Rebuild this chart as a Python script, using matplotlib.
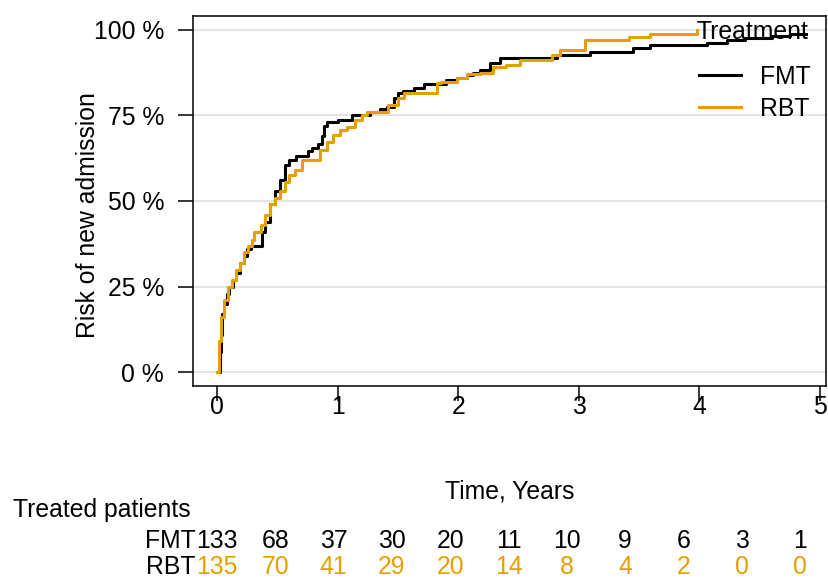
import matplotlib
matplotlib.use("Agg")
import matplotlib.pyplot as plt
from matplotlib.lines import Line2D

plt.rcParams.update({
    "font.family": ["Liberation Sans", "DejaVu Sans"],
    "font.size": 17.8,
    "axes.linewidth": 1.1,
})

# ---------------- data ----------------
fmt_t = [0, 0.02, 0.03, 0.04, 0.06, 0.08, 0.10, 0.13, 0.16, 0.19, 0.22, 0.25,
         0.28, 0.37, 0.40, 0.44, 0.48, 0.52, 0.56, 0.60, 0.655, 0.75, 0.79,
         0.84, 0.87, 0.89, 0.91, 1.00, 1.12, 1.27, 1.35, 1.41, 1.47, 1.50,
         1.54, 1.63, 1.72, 1.90, 1.99, 2.07, 2.12, 2.18, 2.26, 2.35, 2.82,
         3.09, 3.45, 3.59, 4.06, 4.23, 4.38, 4.60, 4.75, 4.88]
fmt_r = [0, 0.06, 0.11, 0.17, 0.20, 0.23, 0.25, 0.27, 0.29, 0.32, 0.34, 0.36,
         0.37, 0.41, 0.44, 0.49, 0.53, 0.56, 0.605, 0.62, 0.63, 0.645, 0.655,
         0.667, 0.69, 0.72, 0.73, 0.737, 0.75, 0.76, 0.77, 0.775, 0.80, 0.816,
         0.82, 0.83, 0.842, 0.854, 0.86, 0.869, 0.875, 0.883, 0.904, 0.918,
         0.927, 0.934, 0.947, 0.956, 0.962, 0.97, 0.977, 0.982, 0.988, 0.988]

rbt_t = [0, 0.015, 0.03, 0.06, 0.09, 0.12, 0.16, 0.19, 0.22, 0.26, 0.29, 0.31,
         0.36, 0.40, 0.44, 0.48, 0.52, 0.56, 0.60, 0.65, 0.70, 0.85, 0.91,
         0.96, 1.02, 1.08, 1.14, 1.20, 1.24, 1.42, 1.50, 1.55, 1.82, 1.86,
         1.99, 2.07, 2.18, 2.29, 2.40, 2.51, 2.78, 2.84, 3.05, 3.42, 3.59, 3.98]
rbt_r = [0, 0.09, 0.16, 0.21, 0.25, 0.27, 0.30, 0.32, 0.35, 0.37, 0.385, 0.41,
         0.43, 0.46, 0.49, 0.51, 0.53, 0.555, 0.575, 0.59, 0.62, 0.65, 0.672,
         0.693, 0.708, 0.717, 0.737, 0.752, 0.76, 0.781, 0.80, 0.815, 0.845,
         0.848, 0.86, 0.87, 0.875, 0.89, 0.898, 0.912, 0.927, 0.942, 0.971,
         0.98, 0.988, 1.0]

groups = ["FMT", "RBT"]
colors = {"FMT": "black", "RBT": "#E69F00"}

x_ticks = [0, 1, 2, 3, 4, 5]
y_ticks = [0, 0.25, 0.5, 0.75, 1.0]
y_ticklabels = ["0 %", "25 %", "50 %", "75 %", "100 %"]

risk_times = [0, 0.5, 1, 1.5, 2, 2.5, 3, 3.5, 4, 4.5, 5]
risk_fmt = [133, 68, 37, 30, 20, 11, 10, 9, 6, 3, 1]
risk_rbt = [135, 70, 41, 29, 20, 14, 8, 4, 2, 0, 0]

# ---------------- figure ----------------
W, H = 829, 581
fig = plt.figure(figsize=(W / 100, H / 100), dpi=100)
ax = fig.add_axes([193 / W, 1 - 386 / H, (826 - 193) / W, (386 - 16) / H])

for y in y_ticks:
    ax.axhline(y, color="#DEDEDE", lw=1.1, zorder=0)

ax.step(fmt_t, fmt_r, where="post", color=colors["FMT"], lw=2.2, zorder=3)
ax.step(rbt_t, rbt_r, where="post", color=colors["RBT"], lw=2.2, zorder=4)

ax.set_xlim(-0.2, 5.05)
ax.set_ylim(-0.04, 1.04)
ax.set_xticks(x_ticks)
ax.set_yticks(y_ticks)
ax.set_yticklabels(y_ticklabels)
ax.tick_params(axis="both", direction="out", length=10.8, width=1.1)
ax.tick_params(axis="y", pad=10)
ax.tick_params(axis="x", pad=-4)

ax.set_xlabel("Time, Years")
ax.xaxis.set_label_coords(0.5, -0.286)
ax.xaxis.label.set_va("center")
ax.set_ylabel("Risk of new admission")
ax.yaxis.set_label_coords(-0.166, 0.462)
ax.yaxis.label.set_va("center")

# legend: title drawn as text, entries as a frameless legend
ax.text((697 - 193) / 633, (386 - 32) / 370, "Treatment",
        transform=ax.transAxes, ha="left", va="center", zorder=6)
handles = [Line2D([0], [0], color=colors[g], lw=2.2) for g in groups]
leg = ax.legend(handles, groups, loc="upper left",
                bbox_to_anchor=(0.80, 0.868), frameon=False, borderaxespad=0,
                borderpad=0, handlelength=1.7, handletextpad=0.75,
                labelspacing=0.33)

# ---------------- risk table ----------------
ax_tab = fig.add_axes([217 / W, 0, (800 - 217) / W, 60 / H])
ax_tab.set_xlim(0, 5)
ax_tab.set_ylim(0, 60)
ax_tab.set_axis_off()

rows = [("FMT", risk_fmt, 40), ("RBT", risk_rbt, 14)]
for g, counts, yy in rows:
    for t, n in zip(risk_times, counts):
        ax_tab.text(t, yy, str(n), ha="center", va="center", color=colors[g])
    fig.text(196 / W, yy / H, g, ha="right", va="center")

fig.text(13 / W, 1 - 510 / H, "Treated patients", ha="left", va="center")

fig.savefig("out.png", dpi=100)
